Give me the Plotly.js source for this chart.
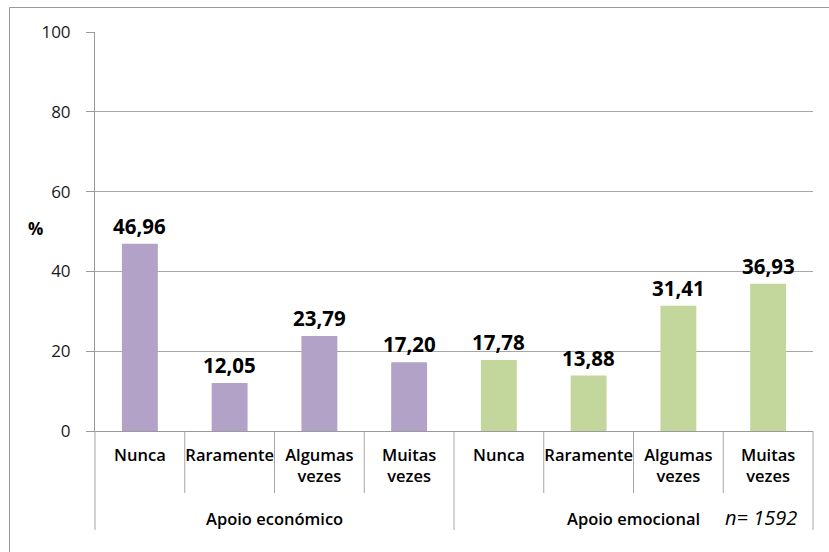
<!DOCTYPE html>
<html>
<head>
<meta charset="utf-8">
<script src="https://cdn.plot.ly/plotly-3.0.1.min.js"></script>
<style>html,body{margin:0;padding:0;background:#fff;}#chart{width:829px;height:552px;}</style>
</head>
<body>
<div id="chart"></div>
<script>
// ---- data ----
const categories = ["Nunca", "Raramente", "Algumas<br>vezes", "Muitas<br>vezes",
                    "Nunca", "Raramente", "Algumas<br>vezes", "Muitas<br>vezes"];
const groups = ["Apoio económico", "Apoio emocional"];
const economicoValues = [46.96, 12.05, 23.79, 17.20];
const emocionalValues = [17.78, 13.88, 31.41, 36.93];
const valueLabels = ["46,96", "12,05", "23,79", "17,20", "17,78", "13,88", "31,41", "36,93"];
const yTicks = [0, 20, 40, 60, 80, 100];
const sampleNote = "n= 1592";
const axisUnit = "%";

// ---- build ----
const FONT = "'Open Sans', 'Noto Sans', sans-serif";
const idxEco = economicoValues.map((v, i) => i);
const idxEmo = emocionalValues.map((v, i) => i + economicoValues.length);
const allValues = economicoValues.concat(emocionalValues);
const nCat = categories.length;

const traces = [
  {type: 'bar', x: idxEco, y: economicoValues, width: 0.4,
   marker: {color: '#B3A2C7'}, hoverinfo: 'skip'},
  {type: 'bar', x: idxEmo, y: emocionalValues, width: 0.4,
   marker: {color: '#C3D69B'}, hoverinfo: 'skip'}
];

const annotations = [];
allValues.forEach((v, i) => {
  annotations.push({x: i, y: v, xref: 'x', yref: 'y', text: valueLabels[i],
    showarrow: false, yanchor: 'bottom', yshift: 2,
    font: {family: FONT, size: 20.5, color: '#000', weight: 'bold'}});
});
const plotH = 399;
const px2paperY = p => -p / plotH;
groups.forEach((g, gi) => {
  annotations.push({x: gi * 4 + 1.5, y: px2paperY(87), xref: 'x', yref: 'paper',
    text: g, showarrow: false, xanchor: 'center', yanchor: 'middle',
    font: {family: FONT, size: 16.5, color: '#000', weight: 600}});
});
annotations.push({x: (761 - 95) / 718, y: px2paperY(86), xref: 'paper', yref: 'paper',
  text: '<i>' + sampleNote + '</i>', showarrow: false, xanchor: 'center', yanchor: 'middle',
  font: {family: FONT, size: 20, color: '#000'}});
annotations.push({x: (35 - 95) / 718, y: (431 - 228) / plotH, xref: 'paper', yref: 'paper',
  text: axisUnit, showarrow: false, xanchor: 'center', yanchor: 'middle',
  font: {family: FONT, size: 17, color: '#000', weight: 'bold'}});

const shapes = [];
for (let i = 0; i <= nCat; i++) {
  const outer = (i % 4 === 0);
  shapes.push({type: 'line', xref: 'paper', yref: 'paper',
    x0: i / nCat, x1: i / nCat, y0: 0, y1: outer ? px2paperY(99) : px2paperY(62),
    line: {color: '#a6a6a6', width: 1}});
}
// outer chart border
shapes.push({type: 'rect', xref: 'paper', yref: 'paper',
  x0: (9.5 - 95) / 718, x1: 1.2, y0: -0.6, y1: (431 - 7.5) / plotH,
  line: {color: '#9a9a9a', width: 1}, fillcolor: 'rgba(0,0,0,0)'});

const layout = {
  width: 829, height: 552,
  margin: {l: 95, r: 16, t: 32, b: 121, pad: 0},
  paper_bgcolor: '#fff', plot_bgcolor: '#fff',
  showlegend: false,
  bargap: 0.6,
  xaxis: {range: [-0.5, nCat - 0.5], tickvals: categories.map((c, i) => i), ticktext: categories,
    showgrid: false, zeroline: false, showline: true, linecolor: '#9a9a9a', linewidth: 1,
    ticks: '', ticklabelstandoff: 9, fixedrange: true,
    tickfont: {family: FONT, size: 16.5, color: '#000', weight: 600}},
  yaxis: {range: [0, 100], tickvals: yTicks, showgrid: true, gridcolor: '#a6a6a6', gridwidth: 1,
    zeroline: false, showline: true, linecolor: '#9a9a9a', linewidth: 1,
    ticks: 'outside', ticklen: 8, tickcolor: '#9a9a9a', ticklabelstandoff: 12, fixedrange: true,
    tickfont: {family: FONT, size: 17, color: '#1a1a1a'}},
  annotations: annotations,
  shapes: shapes,
  font: {family: FONT}
};

Plotly.newPlot('chart', traces, layout, {displayModeBar: false, staticPlot: true});
</script>
</body>
</html>
